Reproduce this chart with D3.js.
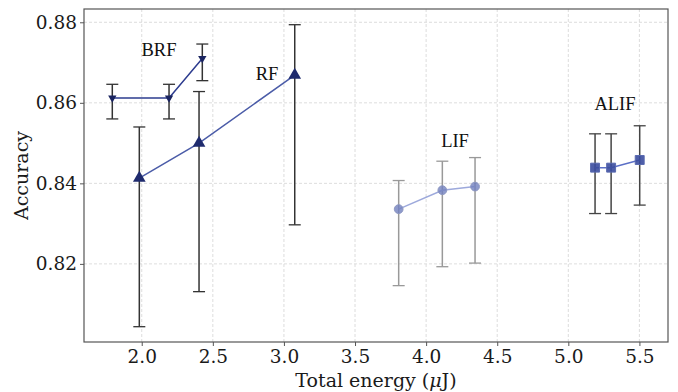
<!DOCTYPE html>
<html>
<head>
<meta charset="utf-8">
<script src="https://cdn.jsdelivr.net/npm/d3@7"></script>
<style>
  body { margin: 0; background: #fff; }
  svg { display: block; }
  .tick text { font-family: 'DejaVu Serif', serif; font-size: 18.5px; fill: #1a1a1a; }
</style>
</head>
<body>
<svg width="678" height="392"></svg>
<script>
// values
var brfX = [1.793, 2.192, 2.426];
var brfY = [0.8612, 0.8612, 0.8710];
var brfLo = [0.8560, 0.8560, 0.8655];
var brfHi = [0.8646, 0.8646, 0.8746];

var rfX = [1.983, 2.403, 3.076];
var rfY = [0.8413, 0.8500, 0.8669];
var rfLo = [0.8044, 0.8131, 0.8297];
var rfHi = [0.8540, 0.8628, 0.8794];

var lifX = [3.807, 4.114, 4.344];
var lifY = [0.8336, 0.8383, 0.8392];
var lifLo = [0.8146, 0.8193, 0.8202];
var lifHi = [0.8407, 0.8455, 0.8464];

var alifX = [5.188, 5.301, 5.502];
var alifY = [0.8439, 0.8439, 0.8458];
var alifLo = [0.8325, 0.8325, 0.8346];
var alifHi = [0.8523, 0.8523, 0.8543];

var xTicks = [2.0, 2.5, 3.0, 3.5, 4.0, 4.5, 5.0, 5.5];
var yTicks = [0.82, 0.84, 0.86, 0.88];

var svg = d3.select('svg');
var pLeft = 84, pRight = 668, pTop = 9, pBottom = 342;

var x = d3.scaleLinear().domain([1.594, 5.701]).range([pLeft, pRight]);
var y = d3.scaleLinear().domain([0.8006, 0.8833]).range([pBottom, pTop]);

// grid
svg.append('g').selectAll('line').data(xTicks).enter().append('line')
  .attr('x1', function(d) { return x(d); }).attr('x2', function(d) { return x(d); })
  .attr('y1', pTop).attr('y2', pBottom)
  .attr('stroke', '#d4d4d4').attr('stroke-dasharray', '3,2').attr('stroke-width', 0.8);
svg.append('g').selectAll('line').data(yTicks).enter().append('line')
  .attr('y1', function(d) { return y(d); }).attr('y2', function(d) { return y(d); })
  .attr('x1', pLeft).attr('x2', pRight)
  .attr('stroke', '#d4d4d4').attr('stroke-dasharray', '3,2').attr('stroke-width', 0.8);

// axes
var xAxis = d3.axisBottom(x).tickValues(xTicks).tickFormat(d3.format('.1f')).tickSize(4).tickPadding(4);
var yAxis = d3.axisLeft(y).tickValues(yTicks).tickFormat(d3.format('.2f')).tickSize(4).tickPadding(3);
var gx = svg.append('g').attr('transform', 'translate(0,' + pBottom + ')').call(xAxis);
var gy = svg.append('g').attr('transform', 'translate(' + pLeft + ',0)').call(yAxis);
gx.select('.domain').remove();
gy.select('.domain').remove();
gx.selectAll('.tick line').attr('stroke', '#555');
gy.selectAll('.tick line').attr('stroke', '#555');

// frame
svg.append('rect').attr('x', pLeft).attr('y', pTop).attr('width', pRight - pLeft).attr('height', pBottom - pTop)
  .attr('fill', 'none').attr('stroke', '#555').attr('stroke-width', 1.2);

function drawSeries(xs, ys, lo, hi, opt) {
  var g = svg.append('g').attr('opacity', opt.opacity || 1);
  var line = d3.line().x(function(d) { return x(d[0]); }).y(function(d) { return y(d[1]); });
  var pts = d3.zip(xs, ys, lo, hi);
  // error bars
  g.selectAll('.eb').data(pts).enter().append('line')
    .attr('x1', function(d) { return x(d[0]); }).attr('x2', function(d) { return x(d[0]); })
    .attr('y1', function(d) { return y(d[2]); }).attr('y2', function(d) { return y(d[3]); })
    .attr('stroke', opt.err).attr('stroke-width', 1.5);
  [2, 3].forEach(function(k) {
    g.selectAll('.cap' + k).data(pts).enter().append('line')
      .attr('x1', function(d) { return x(d[0]) - 6; }).attr('x2', function(d) { return x(d[0]) + 6; })
      .attr('y1', function(d) { return y(d[k]); }).attr('y2', function(d) { return y(d[k]); })
      .attr('stroke', opt.err).attr('stroke-width', 1.3);
  });
  g.append('path').datum(pts).attr('d', line)
    .attr('fill', 'none').attr('stroke', opt.line).attr('stroke-width', 1.5);
  g.selectAll('.mk').data(pts).enter().append('path')
    .attr('d', d3.symbol().type(opt.symbol).size(opt.size))
    .attr('transform', function(d) {
      return 'translate(' + x(d[0]) + ',' + y(d[1]) + ')' + (opt.rotate ? ' rotate(180)' : '');
    })
    .attr('fill', opt.fill).attr('stroke', opt.stroke || 'none').attr('stroke-width', 1)
    .attr('fill-opacity', opt.fillOpacity || 1);
}

drawSeries(rfX, rfY, rfLo, rfHi, { line: '#4b5ca8', err: '#333', symbol: d3.symbolTriangle, size: 70, fill: '#1f2b6e' });
drawSeries(brfX, brfY, brfLo, brfHi, { line: '#2d3c8f', err: '#333', symbol: d3.symbolTriangle, size: 30, fill: '#1a2460', rotate: true });
drawSeries(lifX, lifY, lifLo, lifHi, { line: '#8d9bd6', err: '#888', symbol: d3.symbolCircle, size: 60, fill: '#5a6bb5', stroke: '#7a86b8', opacity: 0.85, fillOpacity: 0.8 });
drawSeries(alifX, alifY, alifLo, alifHi, { line: '#5b6fc6', err: '#444', symbol: d3.symbolSquare, size: 80, fill: '#3b4d9e', stroke: '#5a6ab0', fillOpacity: 0.9 });

// group labels
var labels = [['BRF', 159, 56], ['RF', 267, 80], ['LIF', 455, 147], ['ALIF', 615, 110]];
svg.selectAll('.lbl').data(labels).enter().append('text')
  .attr('x', function(d) { return d[1]; }).attr('y', function(d) { return d[2]; })
  .attr('text-anchor', 'middle')
  .style('font-family', "'Liberation Serif', serif").style('font-size', '18.5px').attr('fill', '#111')
  .text(function(d) { return d[0]; });

// axis titles
var xl = svg.append('text').attr('x', (pLeft + pRight) / 2).attr('y', 387).attr('text-anchor', 'middle')
  .style('font-family', "'DejaVu Serif', serif").style('font-size', '19px').attr('fill', '#1a1a1a');
xl.append('tspan').text('Total energy (');
xl.append('tspan').style('font-style', 'italic').text('μ');
xl.append('tspan').text('J)');

svg.append('text').attr('transform', 'translate(28,' + ((pTop + pBottom) / 2) + ') rotate(-90)')
  .attr('text-anchor', 'middle')
  .style('font-family', "'DejaVu Serif', serif").style('font-size', '19px').attr('fill', '#1a1a1a')
  .text('Accuracy');
</script>
</body>
</html>
